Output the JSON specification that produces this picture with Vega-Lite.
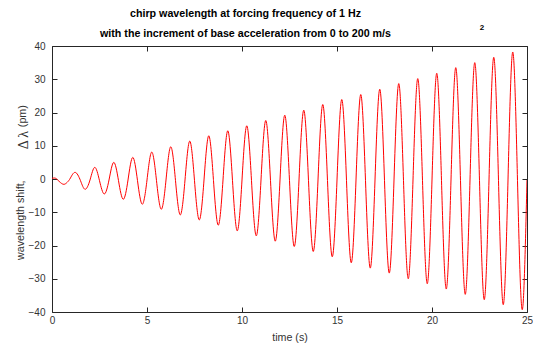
{
  "$schema": "https://vega.github.io/schema/vega-lite/v6.json",
  "width": 475,
  "height": 266,
  "autosize": {"type": "none"},
  "padding": {"left": 52, "top": 46, "right": 6, "bottom": 38},
  "background": "white",
  "config": {
    "view": {"stroke": null},
    "font": "Liberation Sans",
    "axis": {
      "grid": false,
      "domainColor": "#262626",
      "tickColor": "#262626",
      "labelColor": "#333333",
      "titleColor": "#333333",
      "labelFont": "Liberation Sans",
      "titleFont": "Liberation Sans",
      "labelFontSize": 10,
      "titleFontSize": 10.7,
      "titleFontWeight": "normal",
      "tickSize": -5,
      "domainWidth": 1,
      "tickWidth": 1,
      "labelFlush": false,
      "labelOverlap": false
    }
  },
  "title": {
    "text": ["chirp wavelength at forcing frequency of 1 Hz", "with the increment of base acceleration from 0 to 200 m/s"],
    "font": "Liberation Sans",
    "fontSize": 10.7,
    "fontWeight": "bold",
    "color": "black",
    "lineHeight": 20,
    "anchor": "middle",
    "frame": "group",
    "dx": -44,
    "offset": -16
  },
  "data": {
    "values": [
      {"t": 0, "v": 0.2}, {"t": 0.1, "v": 0.3}, {"t": 0.2, "v": 0.2}, {"t": 0.3, "v": -0.3},
      {"t": 0.45, "v": -1.1}, {"t": 0.63, "v": -1.6}, {"t": 0.8, "v": -1.0}, {"t": 0.97, "v": 0.3},
      {"t": 1.22, "v": 2.0}, {"t": 1.5, "v": -0.5}, {"t": 1.74, "v": -3.1}, {"t": 2.0, "v": -0.3},
      {"t": 2.25, "v": 3.5}, {"t": 2.5, "v": -0.5}, {"t": 2.75, "v": -4.5}, {"t": 3.0, "v": -0.3},
      {"t": 3.25, "v": 5.0}, {"t": 3.5, "v": -0.5}, {"t": 3.75, "v": -6.1}, {"t": 4.0, "v": -0.3},
      {"t": 4.25, "v": 6.5}, {"t": 4.5, "v": -0.5}, {"t": 4.75, "v": -7.6}, {"t": 5.0, "v": -0.3},
      {"t": 5.25, "v": 8.1}, {"t": 5.5, "v": -0.5}, {"t": 5.75, "v": -9.1}, {"t": 6.0, "v": -0.3},
      {"t": 6.25, "v": 9.7}, {"t": 6.5, "v": -0.5}, {"t": 6.75, "v": -10.8}, {"t": 7.0, "v": -0.3},
      {"t": 7.25, "v": 11.4}, {"t": 7.5, "v": -0.5}, {"t": 7.75, "v": -12.3}, {"t": 8.0, "v": -0.3},
      {"t": 8.25, "v": 13.0}, {"t": 8.5, "v": -0.5}, {"t": 8.75, "v": -13.9}, {"t": 9.0, "v": -0.3},
      {"t": 9.25, "v": 14.5}, {"t": 9.5, "v": -0.5}, {"t": 9.75, "v": -15.6}, {"t": 10.0, "v": -0.3},
      {"t": 10.25, "v": 16.0}, {"t": 10.5, "v": -0.5}, {"t": 10.75, "v": -17.1}, {"t": 11.0, "v": -0.3},
      {"t": 11.25, "v": 17.6}, {"t": 11.5, "v": -0.5}, {"t": 11.75, "v": -18.7}, {"t": 12.0, "v": -0.3},
      {"t": 12.25, "v": 19.2}, {"t": 12.5, "v": -0.5}, {"t": 12.75, "v": -20.3}, {"t": 13.0, "v": -0.3},
      {"t": 13.25, "v": 20.7}, {"t": 13.5, "v": -0.5}, {"t": 13.75, "v": -21.8}, {"t": 14.0, "v": -0.3},
      {"t": 14.25, "v": 22.4}, {"t": 14.5, "v": -0.5}, {"t": 14.75, "v": -23.4}, {"t": 15.0, "v": -0.3},
      {"t": 15.25, "v": 23.9}, {"t": 15.5, "v": -0.5}, {"t": 15.75, "v": -25.2}, {"t": 16.0, "v": -0.3},
      {"t": 16.25, "v": 25.4}, {"t": 16.5, "v": -0.5}, {"t": 16.75, "v": -26.8}, {"t": 17.0, "v": -0.3},
      {"t": 17.25, "v": 27.0}, {"t": 17.5, "v": -0.5}, {"t": 17.75, "v": -28.3}, {"t": 18.0, "v": -0.3},
      {"t": 18.25, "v": 28.7}, {"t": 18.5, "v": -0.5}, {"t": 18.75, "v": -30.0}, {"t": 19.0, "v": -0.3},
      {"t": 19.25, "v": 30.2}, {"t": 19.5, "v": -0.5}, {"t": 19.75, "v": -31.5}, {"t": 20.0, "v": -0.3},
      {"t": 20.25, "v": 31.8}, {"t": 20.5, "v": -0.5}, {"t": 20.75, "v": -33.1}, {"t": 21.0, "v": -0.3},
      {"t": 21.25, "v": 33.5}, {"t": 21.5, "v": -0.5}, {"t": 21.75, "v": -34.7}, {"t": 22.0, "v": -0.3},
      {"t": 22.25, "v": 35.0}, {"t": 22.5, "v": -0.5}, {"t": 22.75, "v": -36.3}, {"t": 23.0, "v": -0.3},
      {"t": 23.25, "v": 36.6}, {"t": 23.5, "v": -0.5}, {"t": 23.75, "v": -37.8}, {"t": 24.0, "v": -0.3},
      {"t": 24.25, "v": 38.2}, {"t": 24.5, "v": -0.5}, {"t": 24.75, "v": -39.3}, {"t": 25.0, "v": -0.3}
    ]
  },
  "layer": [
    {
      "mark": {"type": "line", "color": "#ff0000", "strokeWidth": 1, "interpolate": "natural", "clip": true},
      "encoding": {
        "x": {
          "field": "t", "type": "quantitative",
          "scale": {"domain": [0, 25], "nice": false, "zero": false},
          "axis": {"orient": "bottom", "values": [0, 5, 10, 15, 20, 25], "title": "time (s)", "labelPadding": 8, "titlePadding": 7}
        },
        "y": {
          "field": "v", "type": "quantitative",
          "scale": {"domain": [-40, 40], "nice": false, "zero": false},
          "axis": {"orient": "left", "values": [-40, -30, -20, -10, 0, 10, 20, 30, 40], "title": null, "labelPadding": 12}
        }
      }
    },
    {
      "mark": {"type": "line", "opacity": 0},
      "encoding": {
        "x": {"field": "t", "type": "quantitative", "axis": {"orient": "top", "values": [0, 5, 10, 15, 20, 25], "labels": false, "title": null}},
        "y": {"field": "v", "type": "quantitative", "axis": {"orient": "right", "values": [-40, -30, -20, -10, 0, 10, 20, 30, 40], "labels": false, "title": null}}
      }
    },
    {
      "data": {"values": [{"s": "2"}]},
      "mark": {"type": "text", "fontSize": 8, "fontWeight": "bold", "font": "Liberation Sans", "color": "black", "align": "center", "baseline": "middle"},
      "encoding": {
        "x": {"datum": 22.63, "type": "quantitative", "axis": null},
        "y": {"datum": 45.4, "type": "quantitative", "axis": null},
        "text": {"field": "s"}
      }
    },
    {
      "data": {"values": [{"s": "wavelength shift,"}]},
      "mark": {"type": "text", "fontSize": 10.7, "font": "Liberation Sans", "color": "#333333", "angle": 270, "align": "center", "baseline": "middle"},
      "encoding": {
        "x": {"datum": -1.655, "type": "quantitative", "axis": null},
        "y": {"datum": -12.4, "type": "quantitative", "axis": null},
        "text": {"field": "s"}
      }
    },
    {
      "data": {"values": [{"s": "Δ λ"}]},
      "mark": {"type": "text", "fontSize": 14, "font": "Liberation Serif", "color": "#333333", "angle": 270, "align": "center", "baseline": "middle"},
      "encoding": {
        "x": {"datum": -1.45, "type": "quantitative", "axis": null},
        "y": {"datum": 11.7, "type": "quantitative", "axis": null},
        "text": {"field": "s"}
      }
    },
    {
      "data": {"values": [{"s": "(pm)"}]},
      "mark": {"type": "text", "fontSize": 10.7, "font": "Liberation Sans", "color": "#333333", "angle": 270, "align": "center", "baseline": "middle"},
      "encoding": {
        "x": {"datum": -1.52, "type": "quantitative", "axis": null},
        "y": {"datum": 18.9, "type": "quantitative", "axis": null},
        "text": {"field": "s"}
      }
    }
  ],
  "resolve": {"axis": {"x": "independent", "y": "independent"}}
}
